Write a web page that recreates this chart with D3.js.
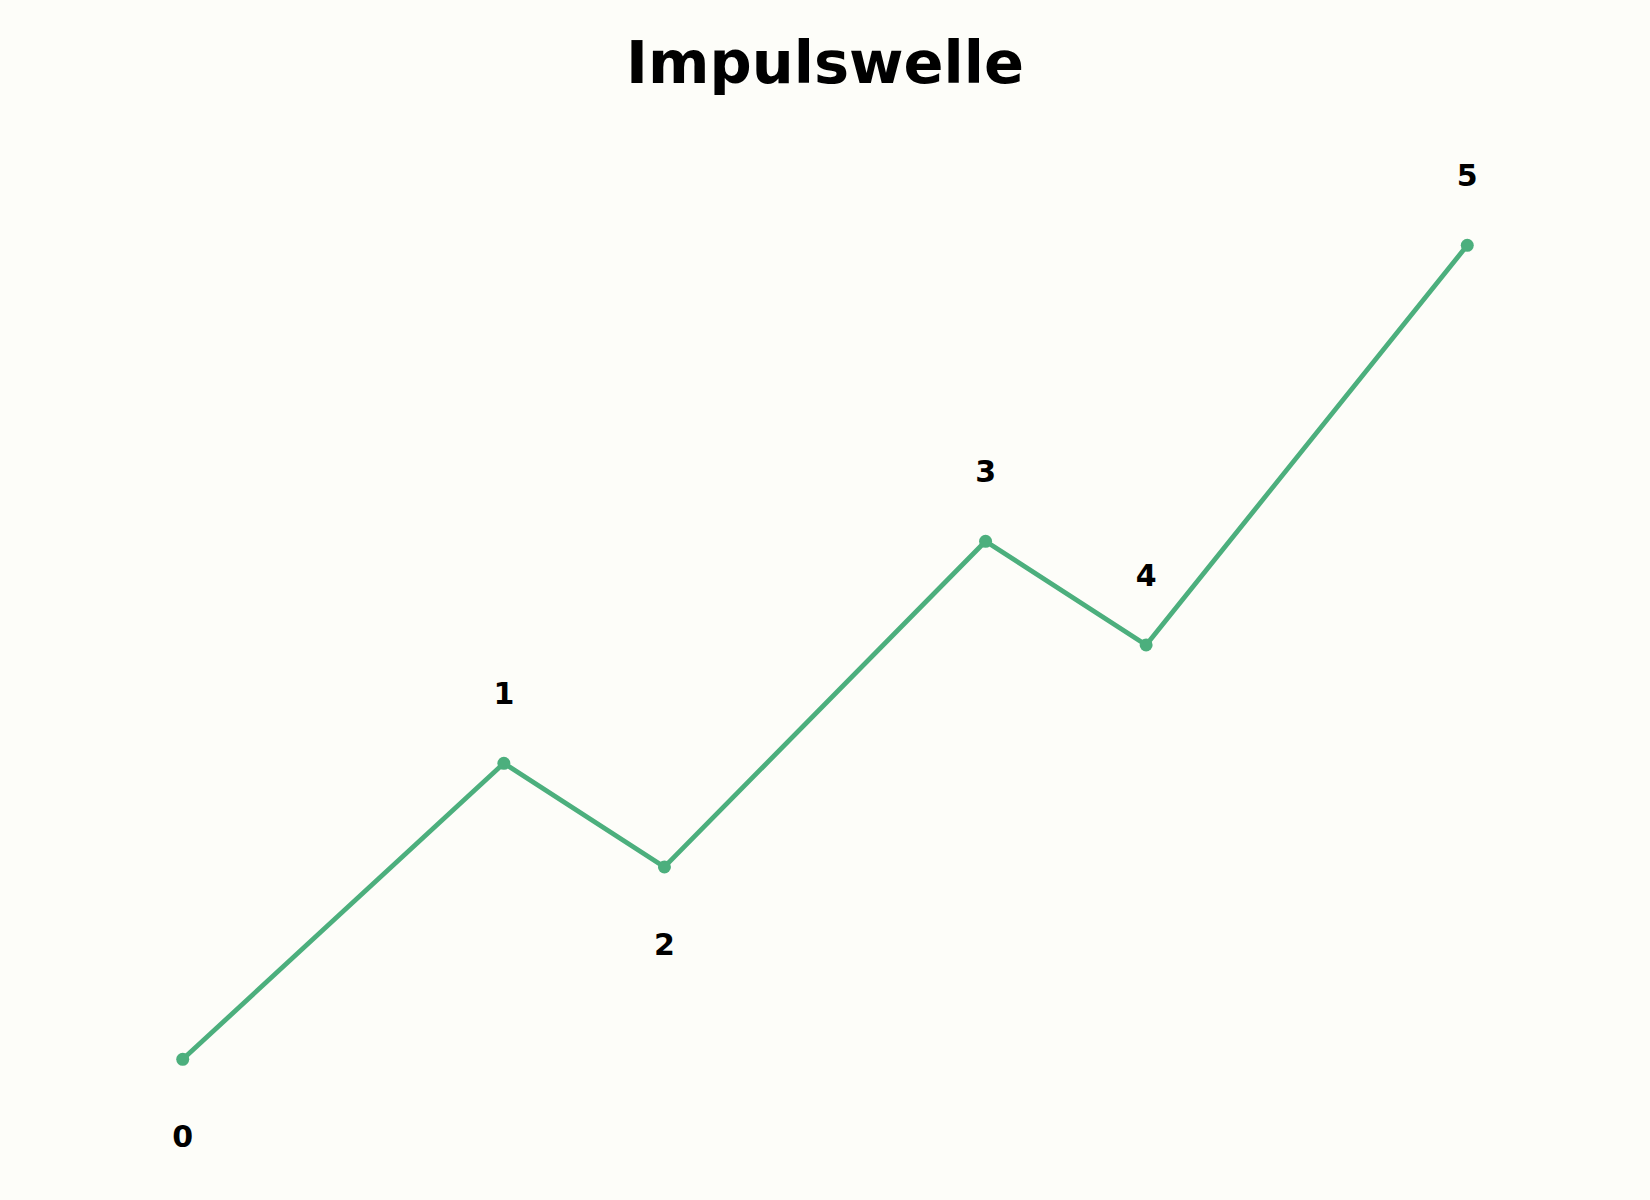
<!DOCTYPE html>
<html>
<head>
<meta charset="utf-8">
<script src="https://cdn.jsdelivr.net/npm/d3@7"></script>
<style>
  html, body { margin: 0; padding: 0; background: #fdfdf9; }
  svg { display: block; }
  text { font-family: 'DejaVu Sans', sans-serif; font-weight: bold; fill: #000; }
</style>
</head>
<body>
<div id="chart"></div>
<script>
// wave points (time step, price level) and their labels
const steps = [0, 2, 3, 5, 6, 8]
const levels = [0, 10, 6.5, 17.5, 14, 27.5]
const labels = ['0', '1', '2', '3', '4', '5']
// label placed below the point (true) or above it (false)
const labelBelow = [true, false, true, false, false, false]

const width = 1650
const height = 1200
const color = '#4caf7d'

const svg = d3.select('#chart')
  .append('svg')
  .attr('width', width)
  .attr('height', height)

svg.append('rect')
  .attr('width', width)
  .attr('height', height)
  .attr('fill', '#fdfdf9')

const x = d3.scaleLinear()
  .domain([-0.4, 8.4])
  .range([118.5, 1531.5])

const y = d3.scaleLinear()
  .domain([-1.375, 28.875])
  .range([1100, 204.6])

const points = steps.map((s, i) => ({ step: s, level: levels[i], label: labels[i], below: labelBelow[i] }))

// title
svg.append('text')
  .attr('x', width / 2)
  .attr('y', 82.5)
  .attr('text-anchor', 'middle')
  .style('font-size', '59px')
  .text('Impulswelle')

const line = d3.line()
  .x(d => x(d.step))
  .y(d => y(d.level))

svg.append('path')
  .datum(points)
  .attr('fill', 'none')
  .attr('stroke', color)
  .attr('stroke-width', 4.8)
  .attr('stroke-linejoin', 'round')
  .attr('d', line)

svg.append('g')
  .selectAll('circle')
  .data(points)
  .enter()
  .append('circle')
  .attr('cx', d => x(d.step))
  .attr('cy', d => y(d.level))
  .attr('r', 6.5)
  .attr('fill', color)

svg.append('g')
  .selectAll('text')
  .data(points)
  .enter()
  .append('text')
  .attr('x', d => x(d.step))
  .attr('y', d => y(d.level) + (d.below ? 88 : -59))
  .attr('text-anchor', 'middle')
  .style('font-size', '30px')
  .text(d => d.label)
</script>
</body>
</html>
